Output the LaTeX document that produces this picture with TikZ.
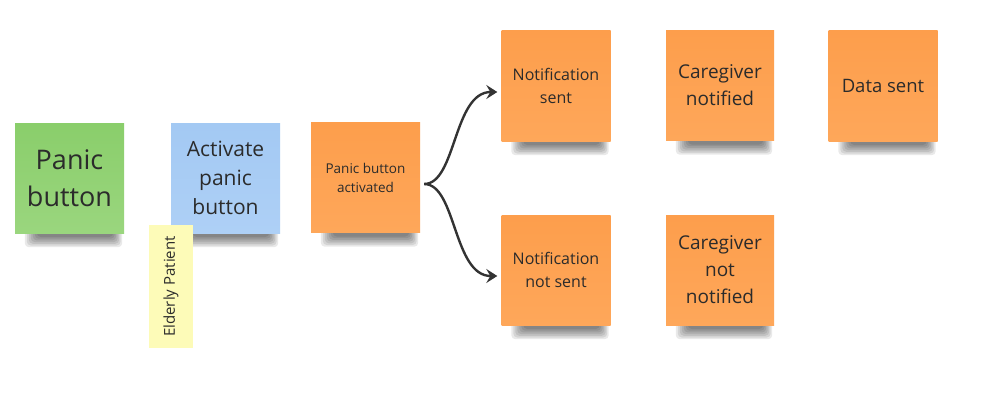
\documentclass[tikz,border=0pt]{standalone}
\usepackage{fontspec}
\setmainfont{Open Sans}
\usetikzlibrary{arrows.meta,backgrounds}
\definecolor{orng}{HTML}{FD9E4C}
\definecolor{orngb}{HTML}{FEA75A}
\definecolor{grn}{HTML}{8ACE6B}
\definecolor{grnb}{HTML}{9AD67E}
\definecolor{blu}{HTML}{A3C9F3}
\definecolor{blub}{HTML}{AED0F6}
\definecolor{ylw}{HTML}{FDFBB8}
\definecolor{txt}{HTML}{2B2B2B}
\definecolor{arr}{HTML}{333333}
\begin{document}
\begin{tikzpicture}[x=1pt,y=-1pt,
  sticky/.style={minimum width=109pt, minimum height=110pt, inner sep=0pt,
    align=center, text=txt},
  orangenote/.style={sticky, top color=orng, bottom color=orngb},
  greennote/.style={sticky, top color=grn, bottom color=grnb},
  bluenote/.style={sticky, top color=blu, bottom color=blub},
  shadowlayer/.style={fill=black, opacity=0.085, rounded corners=4pt},
  flow/.style={draw=arr, line width=2.4pt,
    -{Stealth[length=11pt, width=14pt, inset=4pt]}}
]
\useasboundingbox (0,0) rectangle (999,420);

\node[greennote, font=\fontsize{27}{37}\selectfont] (pb) at (69.5,178) {Panic\\button};
\node[bluenote, font=\fontsize{21}{29}\selectfont] (apb) at (225.5,178) {Activate\\panic\\button};
\node[fill=ylw, minimum width=123pt, minimum height=44pt, inner sep=0pt,
  text=txt, rotate=90, font=\fontsize{15}{18}\selectfont] (ep) at (171,286.5) {Elderly Patient};
\node[orangenote, font=\fontsize{13.5}{19}\selectfont] (pba) at (365.5,177.5) {Panic button\\activated};
\node[orangenote, font=\fontsize{16}{23}\selectfont] (ns) at (556,86) {Notification\\sent};
\node[orangenote, font=\fontsize{16}{23}\selectfont] (nns) at (556,270) {Notification\\not sent};
\node[orangenote, minimum width=108pt, font=\fontsize{19}{27}\selectfont] (cn) at (720,85.5) {Caregiver\\notified};
\node[orangenote, font=\fontsize{18.5}{26}\selectfont] (ds) at (883,86) {Data sent};
\node[orangenote, minimum width=108pt, font=\fontsize{19}{27}\selectfont] (cnn) at (720,270) {Caregiver\\not\\notified};

\begin{pgfonlayer}{background}
\fill[white] (0,0) rectangle (999,420);
\foreach \n in {pb,apb,pba,ns,nns,cn,ds,cnn}{
  \foreach \i in {0,...,6}{
    \fill[shadowlayer]
      ([xshift={(10+2*\i)*1pt}, yshift=6pt]\n.south west) rectangle
      ([xshift={(-2-1.5*\i)*1pt}, yshift={(-14+1.7*\i)*1pt}]\n.south east);
  }
}
\end{pgfonlayer}

\coordinate (fork) at ([xshift=4pt,yshift=-6.5pt]pba.east);
\coordinate (nsin) at ([xshift=-4pt,yshift=-6pt]ns.west);
\coordinate (nnsin) at ([xshift=-4pt,yshift=-6pt]nns.west);
\draw[flow] (fork) .. controls ++(32,0) and ++(-44,0) .. (nsin);
\draw[flow] (fork) .. controls ++(32,0) and ++(-44,0) .. (nnsin);
\end{tikzpicture}
\end{document}
